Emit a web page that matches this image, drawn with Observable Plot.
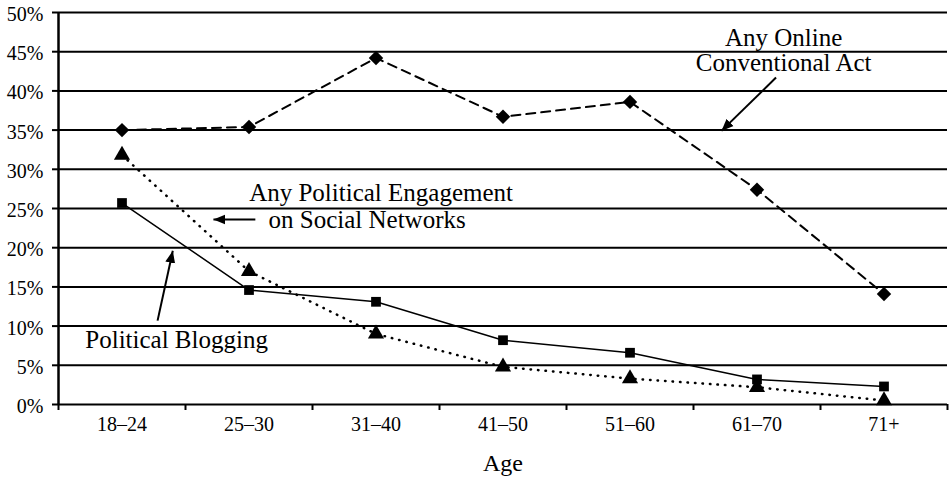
<!DOCTYPE html>
<html><head><meta charset="utf-8">
<script src="https://cdn.jsdelivr.net/npm/d3@7"></script>
<script src="https://cdn.jsdelivr.net/npm/@observablehq/plot@0.6"></script>
<style>body{margin:0;background:#fff}</style>
</head><body><div id="chart"></div>
<script>
const ages = ["18–24","25–30","31–40","41–50","51–60","61–70","71+"];
const online = [35.0, 35.4, 44.2, 36.7, 38.6, 27.4, 14.1];
const social = [31.8, 17.0, 9.0, 4.8, 3.3, 2.2, 0.5];
const blogging = [25.7, 14.6, 13.1, 8.2, 6.6, 3.2, 2.3];
const yTicks = [0,5,10,15,20,25,30,35,40,45,50];

// annotation labels (x in category index units, y in percent)
const labelText = ["Any Online", "Conventional Act", "Any Political Engagement", "on Social Networks", "Political Blogging"];
const labelX = [5.21, 5.21, 2.04, 1.93, 0.43];
const labelY = [46.8, 43.5, 27.0, 23.5, 8.2];
// annotation arrows
const arrowX1 = [5.15, 1.05, 0.28];
const arrowY1 = [41.7, 23.6, 10.7];
const arrowX2 = [4.72, 0.72, 0.40];
const arrowY2 = [34.9, 23.6, 19.6];

const FONT = "Liberation Serif";
const series = (vals) => vals.map((v, i) => ({i, v}));
const labels = labelText.map((t, k) => ({t, x: labelX[k], y: labelY[k]}));
const arrows = arrowX1.map((x1, k) => ({x1, y1: arrowY1[k], x2: arrowX2[k], y2: arrowY2[k]}));

function headMarker(color, context) {
  const ns = "http://www.w3.org/2000/svg";
  const m = context.document.createElementNS(ns, "marker");
  m.setAttribute("viewBox", "-12 -6 12 12");
  m.setAttribute("markerWidth", 12);
  m.setAttribute("markerHeight", 12);
  m.setAttribute("markerUnits", "userSpaceOnUse");
  m.setAttribute("orient", "auto");
  m.setAttribute("refX", 0);
  m.setAttribute("refY", 0);
  const p = context.document.createElementNS(ns, "path");
  p.setAttribute("d", "M-12,-5L0,0L-12,5Z");
  p.setAttribute("fill", color);
  p.setAttribute("stroke", "none");
  m.appendChild(p);
  return m;
}

const plot = Plot.plot({
  width: 950,
  height: 483,
  marginTop: 12,
  marginBottom: 79,
  marginLeft: 58,
  marginRight: 3,
  style: {fontFamily: FONT, fontSize: "20px", color: "#000", background: "#fff"},
  x: {type: "linear", domain: [-0.5, 6.5]},
  y: {domain: [0, 50]},
  marks: [
    Plot.ruleY(yTicks, {stroke: "#000", strokeWidth: 2}),
    Plot.ruleX([-0.5], {stroke: "#000", strokeWidth: 2.5}),
    Plot.axisY(yTicks, {tickFormat: () => "", tickSize: 6, strokeWidth: 2, label: null}),
    Plot.axisY(yTicks, {tickFormat: d => d + "%", tickSize: 0, tickPadding: 15, label: null, fontSize: 20, dy: 2}),
    Plot.axisX(d3.range(-0.5, 7, 1), {tickFormat: () => "", tickSize: 6, strokeWidth: 2, label: null}),
    Plot.axisX(d3.range(7), {tickFormat: i => ages[i], tickSize: 0, tickPadding: 12, label: null, fontSize: 20}),
    Plot.text(["Age"], {frameAnchor: "bottom", dy: 66, fontSize: 24}),
    Plot.line(series(online), {x: "i", y: "v", stroke: "#000", strokeWidth: 2, strokeDasharray: "9,6"}),
    Plot.line(series(social), {x: "i", y: "v", stroke: "#000", strokeWidth: 2.5, strokeDasharray: "0.5,7", strokeLinecap: "round"}),
    Plot.line(series(blogging), {x: "i", y: "v", stroke: "#000", strokeWidth: 1.5}),
    Plot.dot(series(online), {x: "i", y: "v", symbol: "diamond2", r: 6.5, fill: "#000"}),
    Plot.dot(series(social), {x: "i", y: "v", symbol: "triangle", r: 6, fill: "#000"}),
    Plot.dot(series(blogging), {x: "i", y: "v", symbol: "square", r: 5.5, fill: "#000"}),
    Plot.link(arrows, {x1: "x1", y1: "y1", x2: "x2", y2: "y2", stroke: "#000", strokeWidth: 2, markerEnd: headMarker}),
    Plot.text(labels, {x: "x", y: "y", text: "t", fontSize: 25, fill: "#000"})
  ]
});
document.getElementById("chart").appendChild(plot);
</script>
</body></html>
